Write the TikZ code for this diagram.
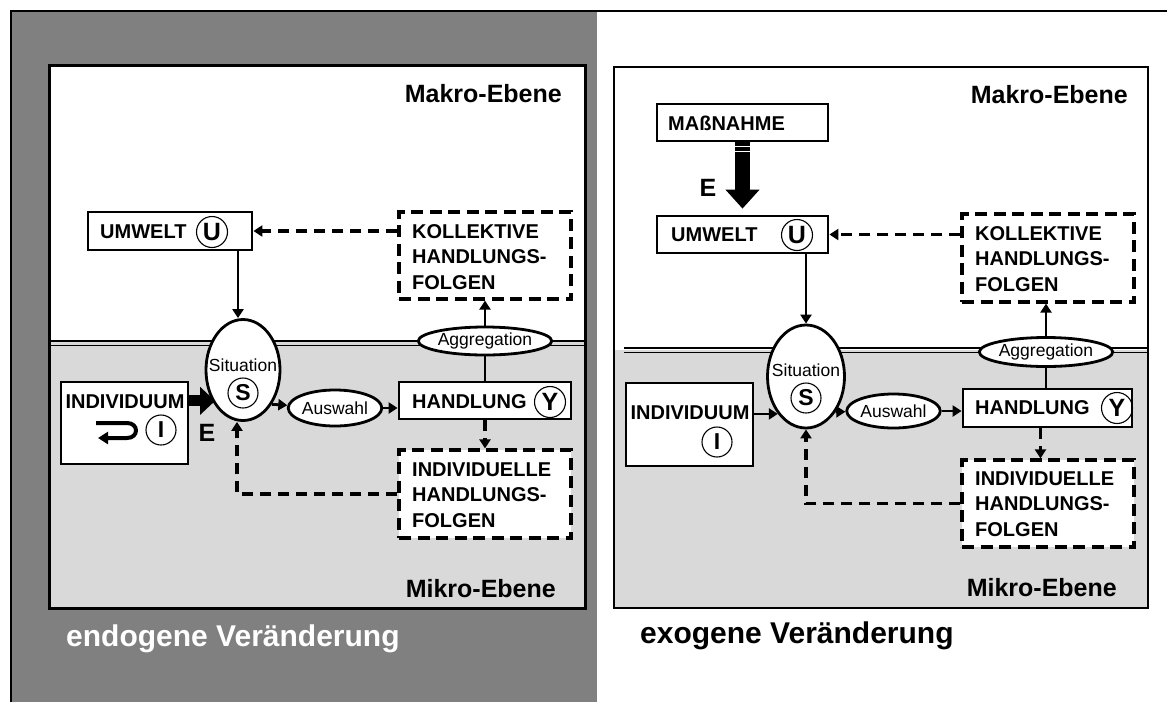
\documentclass[tikz,border=0pt]{standalone}
\usepackage{fontspec}
\setmainfont{Liberation Sans}
\usetikzlibrary{arrows.meta,shapes.geometric,calc}

\definecolor{panelgray}{HTML}{808080}
\definecolor{mikrogray}{HTML}{D9D9D9}

\tikzset{
  solidbox/.style={draw, line width=2.8pt, fill=white, inner sep=0pt},
  dashbox/.style={draw, line width=3.2pt, fill=white, inner sep=0pt, dash pattern=on 12pt off 6.5pt},
  oval/.style={ellipse, draw, line width=2.8pt, fill=white, inner sep=0pt,
    font=\fontsize{17.5}{20}\selectfont},
  boxtext/.style={font=\fontsize{20}{25.5}\selectfont\bfseries, inner sep=0pt, align=left, anchor=west},
  ovaltext/.style={font=\fontsize{17.5}{20}\selectfont, inner sep=0pt},
  ring/.style={circle, draw, line width=1.1pt, inner sep=0pt, minimum size=#1,
    font=\fontsize{25}{25}\selectfont\bfseries},
  ring/.default=31pt,
  level/.style={font=\fontsize{25}{25}\selectfont\bfseries, inner sep=0pt},
  caption/.style={font=\fontsize{30}{30}\selectfont\bfseries, inner sep=0pt},
  elabel/.style={font=\fontsize{25}{25}\selectfont\bfseries, inner sep=0pt},
  conn/.style={line width=2.8pt, -{Triangle[length=9pt,width=11pt]}},
  dconn/.style={line width=3.2pt, dash pattern=on 11pt off 7pt, -{Triangle[length=9pt,width=11pt]}},
  plain/.style={line width=2.8pt},
  bigarrow/.style={line width=11pt, -{Triangle[length=15pt,width=27pt]}},
  hugearrow/.style={line width=15pt, -{Triangle[length=19pt,width=33pt]}}
}

\begin{document}
\begin{tikzpicture}[x=1pt,y=-1pt]
\useasboundingbox (0,0) rectangle (1167,702);

% page background and outer frame
\fill[panelgray] (11,11) rectangle (597,702);
\draw[line width=2pt] (11,702) -- (11,11) -- (1167,11);

% left panel: macro / micro levels
\fill[white] (49,65) rectangle (585,342);
\fill[mikrogray] (49,342) rectangle (585,608);
\draw[line width=2.6pt] (49,341) -- (585,341);
\draw[line width=1.2pt] (49,345.5) -- (585,345.5);
\draw[line width=3pt] (49,65) rectangle (585,608);

% right panel: macro / micro levels
\fill[mikrogray] (614,350) rectangle (1148,608);
\draw[line width=2.4pt] (624,348) -- (1148,348);
\draw[line width=1.2pt] (624,352.5) -- (1148,352.5);
\draw[line width=2.4pt] (614,67) rectangle (1148,608);

% ---------- left panel ----------
\node[solidbox, minimum width=164pt, minimum height=38pt] (umL) at (170,231) {};
\node[boxtext] (umLt) at (100,232) {UMWELT};
\node[ring] (umLc) at (212,232) {U};

\node[dashbox, minimum width=172pt, minimum height=87pt] (koL) at (485,255.5) {};
\node[boxtext] (koLt) at (412,257) {KOLLEKTIVE\\HANDLUNGS-\\FOLGEN};

\node[oval, minimum width=74pt, minimum height=101pt] (sitL) at (243,370) {};
\node[ovaltext] (sitLt) at (243,365) {Situation};
\node[ring=30pt, font=\fontsize{23}{23}\selectfont\bfseries] (sitLc) at (243,393) {S};

\node[solidbox, minimum width=127pt, minimum height=82pt] (inL) at (124.5,423) {};
\node[boxtext, anchor=center] (inLt) at (125,402) {INDIVIDUUM};
\node[ring=30pt, font=\fontsize{23}{23}\selectfont\bfseries] (inLc) at (161,430) {I};

\node[oval, minimum width=86pt, minimum height=36pt] (awL) at (335,408) {Auswahl};

\node[solidbox, minimum width=172pt, minimum height=37pt] (haL) at (485,400.5) {};
\node[boxtext] (haLt) at (412,402) {HANDLUNG};
\node[ring] (haLc) at (550,402) {Y};

\node[oval, minimum width=116pt, minimum height=28pt] (agL) at (485,341) {Aggregation};

\node[dashbox, minimum width=172pt, minimum height=88pt] (indL) at (485,494) {};
\node[boxtext] (indLt) at (412,495) {INDIVIDUELLE\\HANDLUNGS-\\FOLGEN};

\node[level, anchor=east] (makL) at (562,94) {Makro-Ebene};
\node[level, anchor=east] (mikL) at (556,589) {Mikro-Ebene};
\node[caption, text=white, anchor=west] (capL) at (66,639) {endogene Veränderung};
\node[elabel] (eL) at (207,433) {E};

% self-reference hook inside the individual box
\draw[line width=4pt, -{Triangle[length=10pt,width=12pt]}]
  (96,423) -- (127,423) .. controls (139,423) and (139,438) .. (127,438) -- (98,438);

% connectors, left
\coordinate (sLn) at ([xshift=-5pt]sitL.north);
\coordinate (sLs) at ([xshift=-6pt]sitL.south);
\draw[conn] (sLn |- umL.south) -- (sLn);
\draw[dconn] (koL.west |- umL.east) -- (umL.east);
\draw[bigarrow, shorten >=-3pt] (inL.east |- sitL.225) -- (sitL.225);
\draw[conn] (sitL.-50) -- (awL);
\draw[conn] (awL.east) -- (awL.east -| haL.west);
\draw[plain] (agL.south) -- (haL.north);
\draw[conn] (agL.north) -- (koL.south);
\draw[dconn] (haL.south) -- (indL.north);
\draw[dconn] (indL.west) -| (sLs);

% ---------- right panel ----------
\node[solidbox, minimum width=171pt, minimum height=37pt] (maR) at (742.5,122.5) {};
\node[boxtext] (maRt) at (668,123) {MAßNAHME};

\node[solidbox, minimum width=171pt, minimum height=37pt] (umR) at (742.5,234.5) {};
\node[boxtext] (umRt) at (671,235) {UMWELT};
\node[ring] (umRc) at (797,235) {U};

\node[dashbox, minimum width=172pt, minimum height=88pt] (koR) at (1048,258) {};
\node[boxtext] (koRt) at (975,259) {KOLLEKTIVE\\HANDLUNGS-\\FOLGEN};

\node[oval, minimum width=77pt, minimum height=103pt] (sitR) at (806,376.5) {};
\node[ovaltext] (sitRt) at (806,370) {Situation};
\node[ring=30pt, font=\fontsize{23}{23}\selectfont\bfseries] (sitRc) at (806,398) {S};

\node[solidbox, minimum width=127pt, minimum height=83pt] (inR) at (689.5,424.5) {};
\node[boxtext, anchor=center] (inRt) at (690,413) {INDIVIDUUM};
\node[ring=30pt, font=\fontsize{23}{23}\selectfont\bfseries] (inRc) at (717,442) {I};

\node[oval, minimum width=85pt, minimum height=34pt] (awR) at (893.5,411) {Auswahl};

\node[solidbox, minimum width=169pt, minimum height=38pt] (haR) at (1047.5,408) {};
\node[boxtext] (haRt) at (975,408) {HANDLUNG};
\node[ring] (haRc) at (1117,408) {Y};

\node[oval, minimum width=118pt, minimum height=29pt] (agR) at (1046,352) {Aggregation};

\node[dashbox, minimum width=172pt, minimum height=87pt] (indR) at (1048,503.5) {};
\node[boxtext] (indRt) at (975,504) {INDIVIDUELLE\\HANDLUNGS-\\FOLGEN};

\node[level, anchor=east] (makR) at (1128,95) {Makro-Ebene};
\node[level, anchor=east] (mikR) at (1117,588) {Mikro-Ebene};
\node[caption, anchor=west] (capR) at (640,636) {exogene Veränderung};
\node[elabel] (eR) at (708,188) {E};

% connectors, right
\coordinate (umRtop) at ([yshift=6pt]umR.north);
\draw[hugearrow] (maR.south) -- (umRtop);
\draw[white, line width=1pt] ([xshift=-8pt,yshift=-4pt]maR.south) -- ([xshift=8pt,yshift=-4pt]maR.south);
\draw[white, line width=1pt] ([xshift=-8pt,yshift=-9.5pt]maR.south) -- ([xshift=8pt,yshift=-9.5pt]maR.south);

\coordinate (hRs) at ([xshift=-7pt]haR.south);
\draw[conn] (sitR.north |- umR.south) -- (sitR.north);
\draw[dconn] (koR.west |- umR.east) -- (umR.east);
\draw[conn] (inR.east |- sitR.233) -- (sitR.233);
\draw[conn] (sitR.-50) -- (awR);
\draw[conn] (awR.east) -- (awR.east -| haR.west);
\draw[plain] (agR.south) -- (agR.south |- haR.north);
\draw[conn] (agR.north) -- (agR.north |- koR.south);
\draw[dconn] (hRs) -- (hRs |- indR.north);
\draw[dconn] (indR.west) -| (sitR.south);
\end{tikzpicture}
\end{document}
